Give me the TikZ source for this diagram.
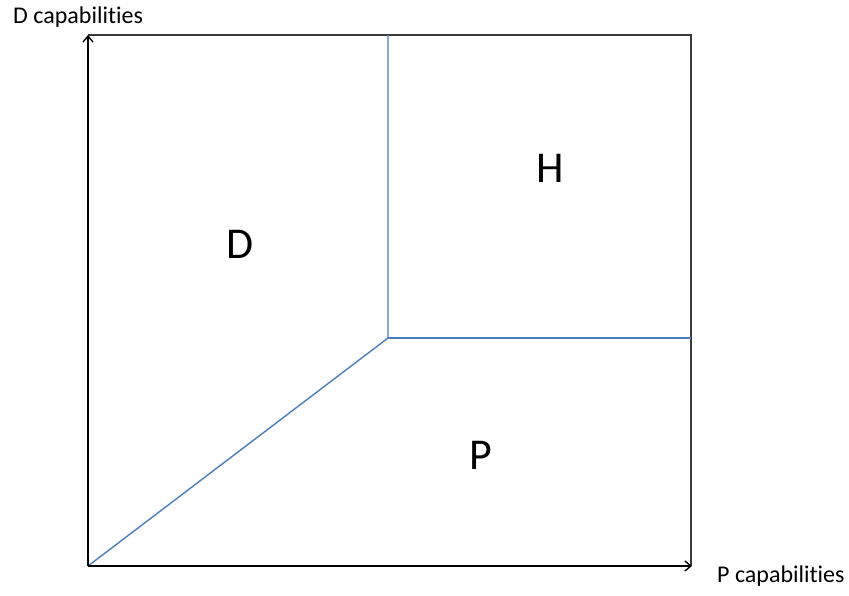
\documentclass[tikz,border=0pt]{standalone}
\usepackage{fontspec}
\setmainfont[Ligatures=NoCommon]{Carlito}
\usetikzlibrary{arrows.meta}
\definecolor{sepblue}{HTML}{4A7EBB}
\definecolor{boxgray}{HTML}{3A3A3A}
\begin{document}
\begin{tikzpicture}[x=1pt,y=-1pt,
  axis/.style={line width=2pt,black,-{Straight Barb[length=6pt,width=10pt,line width=1.4pt]}},
  frame/.style={line width=1.3pt,boxgray},
  sep/.style={line width=1.4pt,sepblue},
  axlabel/.style={font=\fontsize{24}{28}\selectfont,inner sep=0pt,anchor=base west},
  region/.style={font=\fontsize{44}{50}\selectfont,inner sep=0pt}]
\useasboundingbox (0,0) rectangle (849,596);
\coordinate (O) at (88,566);
\coordinate (Ytop) at (88,35);
\coordinate (Xend) at (692,566);
\coordinate (TR) at (691,35);
\coordinate (M) at (388,338);
\coordinate (Mtop) at (388,35);
\coordinate (Mright) at (691,338);
\draw[frame] (Ytop) -- (TR) -- (691,566);
\draw[sep] (O) -- (M) -- (Mtop);
\draw[sep] (M) -- (Mright);
\draw[axis] (O) -- (Xend);
\draw[axis] (O) -- (Ytop);
\node[axlabel] (ylab) at (13,24) {D capabilities};
\node[axlabel] (xlab) at (717,582) {P capabilities};
\node[region] (D) at (240,244) {D};
\node[region] (H) at (550,168) {H};
\node[region] (P) at (481,455) {P};
\end{tikzpicture}
\end{document}
